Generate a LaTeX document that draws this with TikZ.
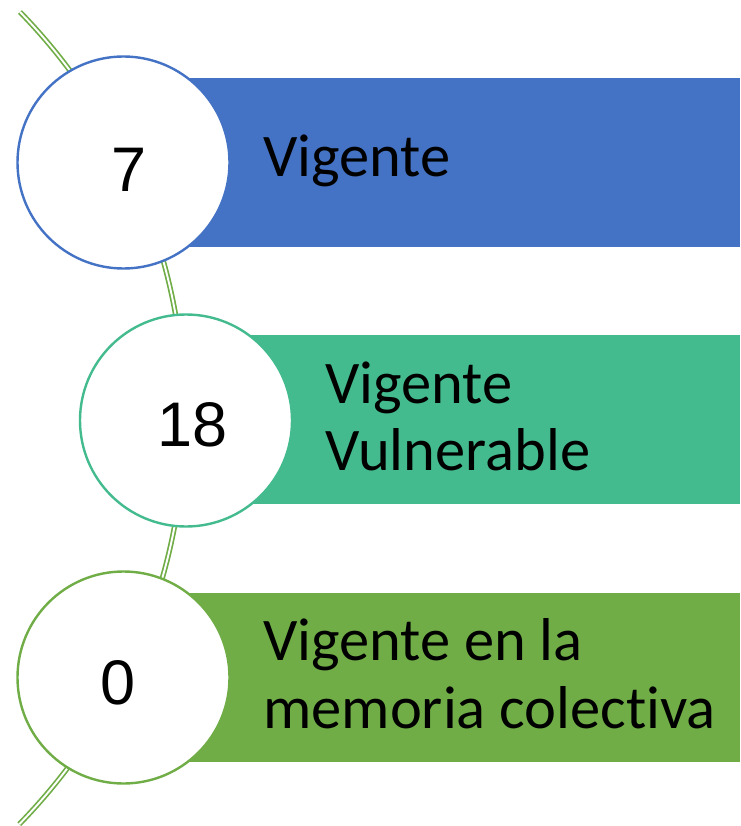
\documentclass[tikz,border=0pt]{standalone}
\usepackage{fontspec}
\setmainfont[Ligatures={NoCommon,NoRare}]{Carlito}
\newfontfamily\numfont{Liberation Sans}
\definecolor{cblue}{HTML}{4472C4}
\definecolor{cteal}{HTML}{44BB8F}
\definecolor{cgreen}{HTML}{70AD47}
\begin{document}
\begin{tikzpicture}[x=1pt,y=-1pt,
  disc/.style={circle,draw=#1,fill=white,line width=2.4pt,minimum size=212pt,inner sep=0pt},
  numtxt/.style={anchor=base,font=\numfont\fontsize{63}{70}\selectfont,inner sep=0pt},
  lbl/.style={anchor=base west,font=\fontsize{60.5}{67}\selectfont,inner sep=0pt}]
\useasboundingbox (0,0) rectangle (740,826);
% spine
\draw[cgreen,line width=1.7pt,double=white,double distance=1.9pt] (20,12) arc[start angle=-44.2,end angle=44.3,radius=582];
% bars
\fill[cblue] (124,78) rectangle (740,247);
\fill[cteal] (186,335) rectangle (740,504);
\fill[cgreen] (124,593) rectangle (740,762);
% circles
\node[disc=cblue] (c1) at (123.5,162.5) {};
\node[disc=cteal] (c2) at (186,420.5) {};
\node[disc=cgreen] (c3) at (123.5,677.5) {};
% numbers
\node[numtxt] (n1) at (129,192) {7};
\node[numtxt] (n2) at (193,446) {18};
\node[numtxt] (n3) at (118,704) {0};
% labels
\node[lbl] (t1) at (263,177) {Vigente};
\node[lbl] (t2a) at (325,403) {Vigente};
\node[lbl] (t2b) at (325,470) {Vulnerable};
\node[lbl] (t3a) at (263,660) {Vigente en la};
\node[lbl] (t3b) at (263,728) {memoria colect\kern0pt iva};
\end{tikzpicture}
\end{document}
